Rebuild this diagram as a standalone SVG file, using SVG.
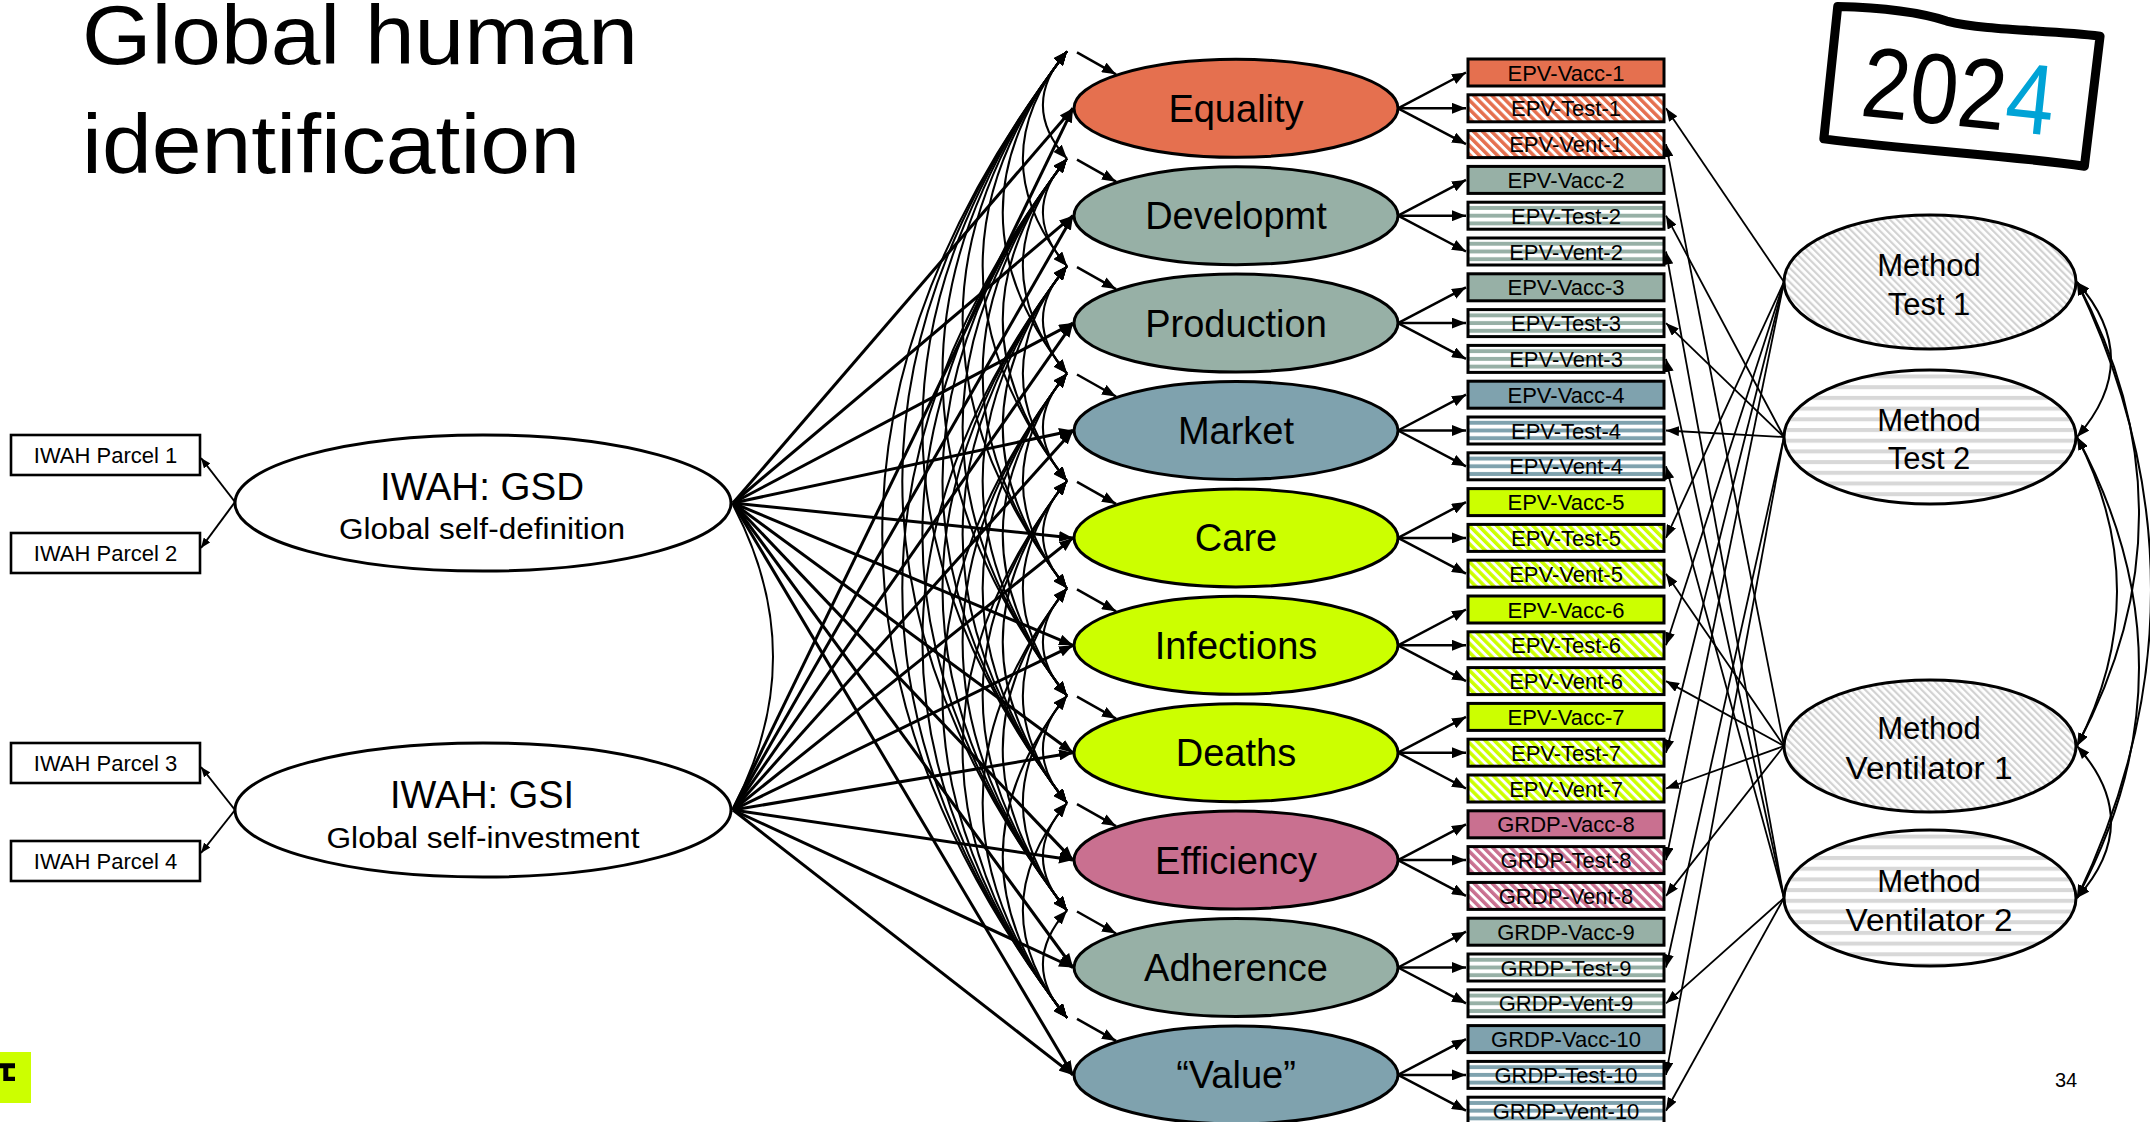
<svg xmlns="http://www.w3.org/2000/svg" width="2150" height="1122" viewBox="0 0 2150 1122">
<style>
text{font-family:"Liberation Sans",Arial,Helvetica,sans-serif;fill:#000}
.lat{stroke:#000;stroke-width:3}
.lt{font-size:38px;text-anchor:middle}
.box{stroke:#000;stroke-width:3}
.bt{font-size:22px;text-anchor:middle}
.par{fill:#fff;stroke:#000;stroke-width:2.6}
.pt{font-size:22px;text-anchor:middle}
.mt{font-size:31px;text-anchor:middle}
.dl{fill:none;stroke:#000;stroke-width:3;marker-end:url(#ah)}
.ld{fill:none;stroke:#000;stroke-width:2.5;marker-end:url(#ah)}
.cv{fill:none;stroke:#000;stroke-width:2;marker-start:url(#ahs);marker-end:url(#ahs)}
.sa{fill:none;stroke:#000;stroke-width:2.5;marker-end:url(#ah)}
.ml{fill:none;stroke:#000;stroke-width:1.8;marker-end:url(#am)}
.rc{fill:none;stroke:#000;stroke-width:2;marker-start:url(#ams);marker-end:url(#ams)}
.pl{fill:none;stroke:#000;stroke-width:2;marker-end:url(#ap)}
</style>
<defs>
<marker id="ah" viewBox="0 0 14 11" refX="14" refY="5.5" markerWidth="14" markerHeight="11" markerUnits="userSpaceOnUse" orient="auto"><path d="M0,0 L14,5.5 L0,11 z" fill="#000"/></marker>
<marker id="ahs" viewBox="0 0 14 11" refX="14" refY="5.5" markerWidth="14" markerHeight="11" markerUnits="userSpaceOnUse" orient="auto-start-reverse"><path d="M0,0 L14,5.5 L0,11 z" fill="#000"/></marker>
<marker id="am" viewBox="0 0 13 10" refX="13" refY="5" markerWidth="13" markerHeight="10" markerUnits="userSpaceOnUse" orient="auto"><path d="M0,0 L13,5 L0,10 z" fill="#000"/></marker>
<marker id="ams" viewBox="0 0 13 10" refX="13" refY="5" markerWidth="13" markerHeight="10" markerUnits="userSpaceOnUse" orient="auto-start-reverse"><path d="M0,0 L13,5 L0,10 z" fill="#000"/></marker>
<marker id="ap" viewBox="0 0 10 8" refX="10" refY="4" markerWidth="10" markerHeight="8" markerUnits="userSpaceOnUse" orient="auto"><path d="M0,0 L10,4 L0,8 z" fill="#000"/></marker>
<pattern id="hG" patternUnits="objectBoundingBox" width="1" height="0.2857"><rect width="200" height="8" fill="#fff"/><rect y="3.8" width="200" height="4.3" fill="#97B0A6"/></pattern>
<pattern id="hB" patternUnits="objectBoundingBox" width="1" height="0.2857"><rect width="200" height="8" fill="#fff"/><rect y="3.8" width="200" height="4.3" fill="#7FA2AE"/></pattern>
<pattern id="dO" patternUnits="userSpaceOnUse" width="6.4" height="6.4" patternTransform="rotate(-45)"><rect width="6.4" height="6.4" fill="#fff"/><rect width="3.5" height="6.4" fill="#E5704F"/></pattern>
<pattern id="dL" patternUnits="userSpaceOnUse" width="6.4" height="6.4" patternTransform="rotate(-45)"><rect width="6.4" height="6.4" fill="#fff"/><rect width="3.5" height="6.4" fill="#CCFF00"/></pattern>
<pattern id="dP" patternUnits="userSpaceOnUse" width="6.4" height="6.4" patternTransform="rotate(-45)"><rect width="6.4" height="6.4" fill="#fff"/><rect width="3.5" height="6.4" fill="#C97090"/></pattern>
<pattern id="mD" patternUnits="userSpaceOnUse" width="5" height="5" patternTransform="rotate(-45)"><rect width="5" height="5" fill="#fff"/><rect width="2.2" height="5" fill="#d2d2d2"/></pattern>
<pattern id="mH" patternUnits="userSpaceOnUse" width="10" height="10.7"><rect width="10" height="10.7" fill="#fff"/><rect width="10" height="4" fill="#d8d8d8"/></pattern>
</defs>
<rect width="2150" height="1122" fill="#fff"/>

<g id="title">
<text x="82" y="64" font-size="84" textLength="556" lengthAdjust="spacingAndGlyphs">Global human</text>
<text x="82" y="173" font-size="84" textLength="498" lengthAdjust="spacingAndGlyphs">identification</text>
</g>

<g id="year-badge" transform="translate(1962,87) rotate(6)">
<path d="M-132,-67 C-95,-70 -55,-71 -22,-64 C18,-58 80,-66 132,-65 L130,66 C60,63 -40,68 -132,66 Z" fill="none" stroke="#000" stroke-width="9" stroke-linejoin="round"/>
<text x="-3" y="39" font-size="100" text-anchor="middle" textLength="193" lengthAdjust="spacingAndGlyphs">202<tspan fill="#00A3D6">4</tspan></text>
</g>

<g id="connectors">
<path class="pl" d="M235,502 L201,458"/>
<path class="pl" d="M235,502 L201,548"/>
<path class="pl" d="M235,810 L201,767"/>
<path class="pl" d="M235,810 L201,853"/>
<path fill="none" stroke="#000" stroke-width="2" d="M733,505 Q813,657 733,808"/>

<path class="dl" d="M733,503 L1073,108.3"/>
<path class="dl" d="M733,503 L1073,215.7"/>
<path class="dl" d="M733,503 L1073,323.1"/>
<path class="dl" d="M733,503 L1073,430.5"/>
<path class="dl" d="M733,503 L1073,537.9"/>
<path class="dl" d="M733,503 L1073,645.3"/>
<path class="dl" d="M733,503 L1073,752.7"/>
<path class="dl" d="M733,503 L1073,860.1"/>
<path class="dl" d="M733,503 L1073,967.5"/>
<path class="dl" d="M733,503 L1073,1074.9"/>
<path class="dl" d="M733,810 L1073,108.3"/>
<path class="dl" d="M733,810 L1073,215.7"/>
<path class="dl" d="M733,810 L1073,323.1"/>
<path class="dl" d="M733,810 L1073,430.5"/>
<path class="dl" d="M733,810 L1073,537.9"/>
<path class="dl" d="M733,810 L1073,645.3"/>
<path class="dl" d="M733,810 L1073,752.7"/>
<path class="dl" d="M733,810 L1073,860.1"/>
<path class="dl" d="M733,810 L1073,967.5"/>
<path class="dl" d="M733,810 L1073,1074.9"/>

<path class="cv" d="M1067,51.3 Q1018.8,105 1067,158.7"/>
<path class="cv" d="M1067,51.3 Q978.7,158.7 1067,266.1"/>
<path class="cv" d="M1067,51.3 Q938.5,212.4 1067,373.5"/>
<path class="cv" d="M1067,51.3 Q898.3,266.1 1067,480.9"/>
<path class="cv" d="M1067,51.3 Q858.2,319.8 1067,588.3"/>
<path class="cv" d="M1067,51.3 Q818,373.5 1067,695.7"/>
<path class="cv" d="M1067,51.3 Q777.8,427.2 1067,803.1"/>
<path class="cv" d="M1067,51.3 Q737.6,480.9 1067,910.5"/>
<path class="cv" d="M1067,51.3 Q697.5,534.6 1067,1017.9"/>
<path class="cv" d="M1067,158.7 Q1018.8,212.4 1067,266.1"/>
<path class="cv" d="M1067,158.7 Q978.7,266.1 1067,373.5"/>
<path class="cv" d="M1067,158.7 Q938.5,319.8 1067,480.9"/>
<path class="cv" d="M1067,158.7 Q898.3,373.5 1067,588.3"/>
<path class="cv" d="M1067,158.7 Q858.2,427.2 1067,695.7"/>
<path class="cv" d="M1067,158.7 Q818,480.9 1067,803.1"/>
<path class="cv" d="M1067,158.7 Q777.8,534.6 1067,910.5"/>
<path class="cv" d="M1067,158.7 Q737.6,588.3 1067,1017.9"/>
<path class="cv" d="M1067,266.1 Q1018.8,319.8 1067,373.5"/>
<path class="cv" d="M1067,266.1 Q978.7,373.5 1067,480.9"/>
<path class="cv" d="M1067,266.1 Q938.5,427.2 1067,588.3"/>
<path class="cv" d="M1067,266.1 Q898.3,480.9 1067,695.7"/>
<path class="cv" d="M1067,266.1 Q858.2,534.6 1067,803.1"/>
<path class="cv" d="M1067,266.1 Q818,588.3 1067,910.5"/>
<path class="cv" d="M1067,266.1 Q777.8,642 1067,1017.9"/>
<path class="cv" d="M1067,373.5 Q1018.8,427.2 1067,480.9"/>
<path class="cv" d="M1067,373.5 Q978.7,480.9 1067,588.3"/>
<path class="cv" d="M1067,373.5 Q938.5,534.6 1067,695.7"/>
<path class="cv" d="M1067,373.5 Q898.3,588.3 1067,803.1"/>
<path class="cv" d="M1067,373.5 Q858.2,642 1067,910.5"/>
<path class="cv" d="M1067,373.5 Q818,695.7 1067,1017.9"/>
<path class="cv" d="M1067,480.9 Q1018.8,534.6 1067,588.3"/>
<path class="cv" d="M1067,480.9 Q978.7,588.3 1067,695.7"/>
<path class="cv" d="M1067,480.9 Q938.5,642 1067,803.1"/>
<path class="cv" d="M1067,480.9 Q898.3,695.7 1067,910.5"/>
<path class="cv" d="M1067,480.9 Q858.2,749.4 1067,1017.9"/>
<path class="cv" d="M1067,588.3 Q1018.8,642 1067,695.7"/>
<path class="cv" d="M1067,588.3 Q978.7,695.7 1067,803.1"/>
<path class="cv" d="M1067,588.3 Q938.5,749.4 1067,910.5"/>
<path class="cv" d="M1067,588.3 Q898.3,803.1 1067,1017.9"/>
<path class="cv" d="M1067,695.7 Q1018.8,749.4 1067,803.1"/>
<path class="cv" d="M1067,695.7 Q978.7,803.1 1067,910.5"/>
<path class="cv" d="M1067,695.7 Q938.5,856.8 1067,1017.9"/>
<path class="cv" d="M1067,803.1 Q1018.8,856.8 1067,910.5"/>
<path class="cv" d="M1067,803.1 Q978.7,910.5 1067,1017.9"/>
<path class="cv" d="M1067,910.5 Q1018.8,964.2 1067,1017.9"/>

<path class="sa" d="M1077,52.3 L1116,74.3"/>
<path class="sa" d="M1077,159.7 L1116,181.7"/>
<path class="sa" d="M1077,267.1 L1116,289.1"/>
<path class="sa" d="M1077,374.5 L1116,396.5"/>
<path class="sa" d="M1077,481.9 L1116,503.9"/>
<path class="sa" d="M1077,589.3 L1116,611.3"/>
<path class="sa" d="M1077,696.7 L1116,718.7"/>
<path class="sa" d="M1077,804.1 L1116,826.1"/>
<path class="sa" d="M1077,911.5 L1116,933.5"/>
<path class="sa" d="M1077,1018.9 L1116,1040.9"/>

<path class="ld" d="M1398,108.3 L1466,72.5"/>
<path class="ld" d="M1398,108.3 L1466,108.3"/>
<path class="ld" d="M1398,108.3 L1466,144.1"/>
<path class="ld" d="M1398,215.7 L1466,179.9"/>
<path class="ld" d="M1398,215.7 L1466,215.7"/>
<path class="ld" d="M1398,215.7 L1466,251.5"/>
<path class="ld" d="M1398,323.1 L1466,287.3"/>
<path class="ld" d="M1398,323.1 L1466,323.1"/>
<path class="ld" d="M1398,323.1 L1466,358.9"/>
<path class="ld" d="M1398,430.5 L1466,394.7"/>
<path class="ld" d="M1398,430.5 L1466,430.5"/>
<path class="ld" d="M1398,430.5 L1466,466.3"/>
<path class="ld" d="M1398,537.9 L1466,502.1"/>
<path class="ld" d="M1398,537.9 L1466,537.9"/>
<path class="ld" d="M1398,537.9 L1466,573.7"/>
<path class="ld" d="M1398,645.3 L1466,609.5"/>
<path class="ld" d="M1398,645.3 L1466,645.3"/>
<path class="ld" d="M1398,645.3 L1466,681.1"/>
<path class="ld" d="M1398,752.7 L1466,716.9"/>
<path class="ld" d="M1398,752.7 L1466,752.7"/>
<path class="ld" d="M1398,752.7 L1466,788.5"/>
<path class="ld" d="M1398,860.1 L1466,824.3"/>
<path class="ld" d="M1398,860.1 L1466,860.1"/>
<path class="ld" d="M1398,860.1 L1466,895.9"/>
<path class="ld" d="M1398,967.5 L1466,931.7"/>
<path class="ld" d="M1398,967.5 L1466,967.5"/>
<path class="ld" d="M1398,967.5 L1466,1003.3"/>
<path class="ld" d="M1398,1074.9 L1466,1039.1"/>
<path class="ld" d="M1398,1074.9 L1466,1074.9"/>
<path class="ld" d="M1398,1074.9 L1466,1110.7"/>

<path class="ml" d="M1784,282 L1666,108.3"/>
<path class="ml" d="M1784,282 L1666,537.9"/>
<path class="ml" d="M1784,282 L1666,645.3"/>
<path class="ml" d="M1784,282 L1666,752.7"/>
<path class="ml" d="M1784,282 L1666,860.1"/>
<path class="ml" d="M1784,437 L1666,215.7"/>
<path class="ml" d="M1784,437 L1666,323.1"/>
<path class="ml" d="M1784,437 L1666,430.5"/>
<path class="ml" d="M1784,437 L1666,967.5"/>
<path class="ml" d="M1784,437 L1666,1074.9"/>
<path class="ml" d="M1784,746 L1666,144.1"/>
<path class="ml" d="M1784,746 L1666,573.7"/>
<path class="ml" d="M1784,746 L1666,681.1"/>
<path class="ml" d="M1784,746 L1666,788.5"/>
<path class="ml" d="M1784,746 L1666,895.9"/>
<path class="ml" d="M1784,898 L1666,251.5"/>
<path class="ml" d="M1784,898 L1666,358.9"/>
<path class="ml" d="M1784,898 L1666,466.3"/>
<path class="ml" d="M1784,898 L1666,1003.3"/>
<path class="ml" d="M1784,898 L1666,1110.7"/>

<path class="rc" d="M2077,282 Q2145,359.5 2077,437"/>
<path class="rc" d="M2077,437 Q2157,591.5 2077,746"/>
<path class="rc" d="M2077,746 Q2145,822 2077,898"/>
<path class="rc" d="M2077,282 Q2201,514 2077,746"/>
<path class="rc" d="M2077,437 Q2201,667.5 2077,898"/>
<path class="rc" d="M2077,282 Q2225,590 2077,898"/>
</g>

<g id="parcel-1"><rect class="par" x="11" y="435" width="189" height="40"/><text class="pt" x="105.5" y="463">IWAH Parcel 1</text></g>
<g id="parcel-2"><rect class="par" x="11" y="533" width="189" height="40"/><text class="pt" x="105.5" y="561">IWAH Parcel 2</text></g>
<g id="parcel-3"><rect class="par" x="11" y="743" width="189" height="40"/><text class="pt" x="105.5" y="771">IWAH Parcel 3</text></g>
<g id="parcel-4"><rect class="par" x="11" y="841" width="189" height="40"/><text class="pt" x="105.5" y="869">IWAH Parcel 4</text></g>

<g id="gsd"><ellipse cx="483" cy="503" rx="248" ry="68" fill="#fff" stroke="#000" stroke-width="3"/>
<text x="482" y="500" font-size="38" text-anchor="middle" textLength="204" lengthAdjust="spacingAndGlyphs">IWAH: GSD</text>
<text x="482" y="539" font-size="29" text-anchor="middle" textLength="286" lengthAdjust="spacingAndGlyphs">Global self-definition</text></g>
<g id="gsi"><ellipse cx="483" cy="810" rx="248" ry="67" fill="#fff" stroke="#000" stroke-width="3"/>
<text x="482" y="808" font-size="38" text-anchor="middle" textLength="184" lengthAdjust="spacingAndGlyphs">IWAH: GSI</text>
<text x="483" y="848" font-size="29" text-anchor="middle" textLength="313" lengthAdjust="spacingAndGlyphs">Global self-investment</text></g>

<g id="f-equality"><ellipse class="lat" cx="1236" cy="108.3" rx="162" ry="49" fill="#E5704F"/><text class="lt" x="1236" y="121.8">Equality</text></g>
<g id="f-developmt"><ellipse class="lat" cx="1236" cy="215.7" rx="162" ry="49" fill="#97B0A6"/><text class="lt" x="1236" y="229.2">Developmt</text></g>
<g id="f-production"><ellipse class="lat" cx="1236" cy="323.1" rx="162" ry="49" fill="#97B0A6"/><text class="lt" x="1236" y="336.6">Production</text></g>
<g id="f-market"><ellipse class="lat" cx="1236" cy="430.5" rx="162" ry="49" fill="#7FA2AE"/><text class="lt" x="1236" y="444">Market</text></g>
<g id="f-care"><ellipse class="lat" cx="1236" cy="537.9" rx="162" ry="49" fill="#CCFF00"/><text class="lt" x="1236" y="551.4">Care</text></g>
<g id="f-infections"><ellipse class="lat" cx="1236" cy="645.3" rx="162" ry="49" fill="#CCFF00"/><text class="lt" x="1236" y="658.8">Infections</text></g>
<g id="f-deaths"><ellipse class="lat" cx="1236" cy="752.7" rx="162" ry="49" fill="#CCFF00"/><text class="lt" x="1236" y="766.2">Deaths</text></g>
<g id="f-efficiency"><ellipse class="lat" cx="1236" cy="860.1" rx="162" ry="49" fill="#C97090"/><text class="lt" x="1236" y="873.6">Efficiency</text></g>
<g id="f-adherence"><ellipse class="lat" cx="1236" cy="967.5" rx="162" ry="49" fill="#97B0A6"/><text class="lt" x="1236" y="981">Adherence</text></g>
<g id="f-value"><ellipse class="lat" cx="1236" cy="1074.9" rx="162" ry="49" fill="#7FA2AE"/><text class="lt" x="1236" y="1088.4">“Value”</text></g>

<g id="i-epv-vacc-1"><rect class="box" x="1468" y="59" width="196" height="27" fill="#E5704F"/><text class="bt" x="1566" y="80.5">EPV-Vacc-1</text></g>
<g id="i-epv-test-1"><rect class="box" x="1468" y="94.8" width="196" height="27" fill="url(#dO)"/><text class="bt" x="1566" y="116.3">EPV-Test-1</text></g>
<g id="i-epv-vent-1"><rect class="box" x="1468" y="130.6" width="196" height="27" fill="url(#dO)"/><text class="bt" x="1566" y="152.1">EPV-Vent-1</text></g>
<g id="i-epv-vacc-2"><rect class="box" x="1468" y="166.4" width="196" height="27" fill="#97B0A6"/><text class="bt" x="1566" y="187.9">EPV-Vacc-2</text></g>
<g id="i-epv-test-2"><rect class="box" x="1468" y="202.2" width="196" height="27" fill="url(#hG)"/><text class="bt" x="1566" y="223.7">EPV-Test-2</text></g>
<g id="i-epv-vent-2"><rect class="box" x="1468" y="238" width="196" height="27" fill="url(#hG)"/><text class="bt" x="1566" y="259.5">EPV-Vent-2</text></g>
<g id="i-epv-vacc-3"><rect class="box" x="1468" y="273.8" width="196" height="27" fill="#97B0A6"/><text class="bt" x="1566" y="295.3">EPV-Vacc-3</text></g>
<g id="i-epv-test-3"><rect class="box" x="1468" y="309.6" width="196" height="27" fill="url(#hG)"/><text class="bt" x="1566" y="331.1">EPV-Test-3</text></g>
<g id="i-epv-vent-3"><rect class="box" x="1468" y="345.4" width="196" height="27" fill="url(#hG)"/><text class="bt" x="1566" y="366.9">EPV-Vent-3</text></g>
<g id="i-epv-vacc-4"><rect class="box" x="1468" y="381.2" width="196" height="27" fill="#7FA2AE"/><text class="bt" x="1566" y="402.7">EPV-Vacc-4</text></g>
<g id="i-epv-test-4"><rect class="box" x="1468" y="417" width="196" height="27" fill="url(#hB)"/><text class="bt" x="1566" y="438.5">EPV-Test-4</text></g>
<g id="i-epv-vent-4"><rect class="box" x="1468" y="452.8" width="196" height="27" fill="url(#hB)"/><text class="bt" x="1566" y="474.3">EPV-Vent-4</text></g>
<g id="i-epv-vacc-5"><rect class="box" x="1468" y="488.6" width="196" height="27" fill="#CCFF00"/><text class="bt" x="1566" y="510.1">EPV-Vacc-5</text></g>
<g id="i-epv-test-5"><rect class="box" x="1468" y="524.4" width="196" height="27" fill="url(#dL)"/><text class="bt" x="1566" y="545.9">EPV-Test-5</text></g>
<g id="i-epv-vent-5"><rect class="box" x="1468" y="560.2" width="196" height="27" fill="url(#dL)"/><text class="bt" x="1566" y="581.7">EPV-Vent-5</text></g>
<g id="i-epv-vacc-6"><rect class="box" x="1468" y="596" width="196" height="27" fill="#CCFF00"/><text class="bt" x="1566" y="617.5">EPV-Vacc-6</text></g>
<g id="i-epv-test-6"><rect class="box" x="1468" y="631.8" width="196" height="27" fill="url(#dL)"/><text class="bt" x="1566" y="653.3">EPV-Test-6</text></g>
<g id="i-epv-vent-6"><rect class="box" x="1468" y="667.6" width="196" height="27" fill="url(#dL)"/><text class="bt" x="1566" y="689.1">EPV-Vent-6</text></g>
<g id="i-epv-vacc-7"><rect class="box" x="1468" y="703.4" width="196" height="27" fill="#CCFF00"/><text class="bt" x="1566" y="724.9">EPV-Vacc-7</text></g>
<g id="i-epv-test-7"><rect class="box" x="1468" y="739.2" width="196" height="27" fill="url(#dL)"/><text class="bt" x="1566" y="760.7">EPV-Test-7</text></g>
<g id="i-epv-vent-7"><rect class="box" x="1468" y="775" width="196" height="27" fill="url(#dL)"/><text class="bt" x="1566" y="796.5">EPV-Vent-7</text></g>
<g id="i-grdp-vacc-8"><rect class="box" x="1468" y="810.8" width="196" height="27" fill="#C97090"/><text class="bt" x="1566" y="832.3">GRDP-Vacc-8</text></g>
<g id="i-grdp-test-8"><rect class="box" x="1468" y="846.6" width="196" height="27" fill="url(#dP)"/><text class="bt" x="1566" y="868.1">GRDP-Test-8</text></g>
<g id="i-grdp-vent-8"><rect class="box" x="1468" y="882.4" width="196" height="27" fill="url(#dP)"/><text class="bt" x="1566" y="903.9">GRDP-Vent-8</text></g>
<g id="i-grdp-vacc-9"><rect class="box" x="1468" y="918.2" width="196" height="27" fill="#97B0A6"/><text class="bt" x="1566" y="939.7">GRDP-Vacc-9</text></g>
<g id="i-grdp-test-9"><rect class="box" x="1468" y="954" width="196" height="27" fill="url(#hG)"/><text class="bt" x="1566" y="975.5">GRDP-Test-9</text></g>
<g id="i-grdp-vent-9"><rect class="box" x="1468" y="989.8" width="196" height="27" fill="url(#hG)"/><text class="bt" x="1566" y="1011.3">GRDP-Vent-9</text></g>
<g id="i-grdp-vacc-10"><rect class="box" x="1468" y="1025.6" width="196" height="27" fill="#7FA2AE"/><text class="bt" x="1566" y="1047.1">GRDP-Vacc-10</text></g>
<g id="i-grdp-test-10"><rect class="box" x="1468" y="1061.4" width="196" height="27" fill="url(#hB)"/><text class="bt" x="1566" y="1082.9">GRDP-Test-10</text></g>
<g id="i-grdp-vent-10"><rect class="box" x="1468" y="1097.2" width="196" height="27" fill="url(#hB)"/><text class="bt" x="1566" y="1118.7">GRDP-Vent-10</text></g>

<g id="m-test-1"><ellipse cx="1930" cy="282" rx="146" ry="67" fill="url(#mD)" stroke="#000" stroke-width="3"/><text class="mt" x="1929" y="276">Method</text><text class="mt" x="1929" y="315">Test  1</text></g>
<g id="m-test-2"><ellipse cx="1930" cy="437" rx="146" ry="67" fill="url(#mH)" stroke="#000" stroke-width="3"/><text class="mt" x="1929" y="431">Method</text><text class="mt" x="1929" y="469">Test 2</text></g>
<g id="m-vent-1"><ellipse cx="1930" cy="746" rx="146" ry="66" fill="url(#mD)" stroke="#000" stroke-width="3"/><text class="mt" x="1929" y="739">Method</text><text class="mt" x="1929" y="779" textLength="167" lengthAdjust="spacingAndGlyphs">Ventilator 1</text></g>
<g id="m-vent-2"><ellipse cx="1930" cy="898" rx="146" ry="68" fill="url(#mH)" stroke="#000" stroke-width="3"/><text class="mt" x="1929" y="892">Method</text><text class="mt" x="1929" y="931" textLength="167" lengthAdjust="spacingAndGlyphs">Ventilator 2</text></g>

<g id="page-number"><text x="2066" y="1087" font-size="20" text-anchor="middle">34</text></g>
<g id="corner-logo"><rect x="0" y="1052" width="31" height="51" fill="#CCFF00"/><path d="M0,1063.3 H15 V1068.3 H8.3 V1076.7 H15 V1081 H3.3 V1068.3 H0 Z" fill="#000"/></g>
</svg>
